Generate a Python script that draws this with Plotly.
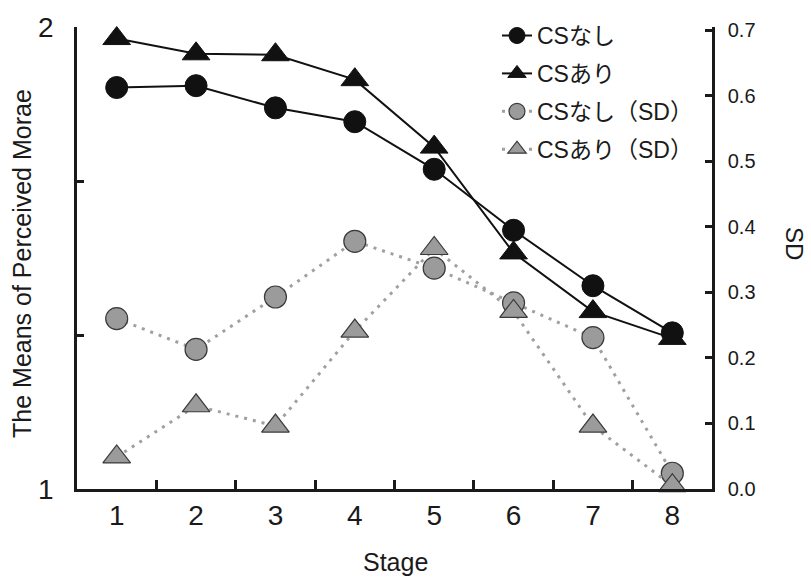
import plotly.graph_objects as go

# Stage numbers on the x axis
stages = [1, 2, 3, 4, 5, 6, 7, 8]

# Mean number of perceived morae (left axis)
mean_no_cs = [1.869, 1.873, 1.825, 1.795, 1.692, 1.560, 1.440, 1.338]
mean_cs = [1.975, 1.942, 1.940, 1.886, 1.740, 1.511, 1.384, 1.326]

# Standard deviations (right axis)
sd_no_cs = [0.260, 0.213, 0.293, 0.378, 0.337, 0.284, 0.231, 0.024]
sd_cs = [0.049, 0.127, 0.096, 0.241, 0.367, 0.271, 0.096, 0.005]

# Right-axis tick values
sd_ticks = [0.0, 0.1, 0.2, 0.3, 0.4, 0.5, 0.6, 0.7]

# Series names
names = ["CSなし", "CSあり", "CSなし（SD）", "CSあり（SD）"]

FONT = "Liberation Sans, Arial, Noto Sans CJK JP, sans-serif"
INK = "#1a1a1a"
GRAY_FILL = "#9b9b9b"
GRAY_LINE = "#a0a0a0"
SD_RANGE = [0, 0.705]

fig = go.Figure()

# Mean series (solid black, left axis)
fig.add_trace(go.Scatter(
    x=stages, y=mean_no_cs, name=names[0],
    mode="lines+markers", legendgroup="a", cliponaxis=False,
    line=dict(color="#111111", width=2),
    marker=dict(symbol="circle", size=22, color="#111111",
                line=dict(color="#111111", width=1)),
))
fig.add_trace(go.Scatter(
    x=stages, y=mean_cs, name=names[1],
    mode="lines+markers", legendgroup="b", cliponaxis=False,
    line=dict(color="#111111", width=2),
    marker=dict(symbol="triangle-up", size=24, color="#111111",
                line=dict(color="#111111", width=1)),
))

# SD series (dotted gray, right axis; y3 shares the y2 scale)
fig.add_trace(go.Scatter(
    x=stages, y=sd_no_cs, name=names[2], xaxis="x2", yaxis="y2",
    mode="lines+markers", legendgroup="c", cliponaxis=False,
    line=dict(color=GRAY_LINE, width=3, dash="3px,6px"),
    marker=dict(symbol="circle", size=22, color=GRAY_FILL,
                line=dict(color="#3a3a3a", width=1.2)),
))
fig.add_trace(go.Scatter(
    x=stages, y=sd_cs, name=names[3], xaxis="x2", yaxis="y3",
    mode="lines+markers", legendgroup="d", cliponaxis=False,
    line=dict(color=GRAY_LINE, width=3, dash="3px,6px"),
    marker=dict(symbol="triangle-up", size=24, color=GRAY_FILL,
                line=dict(color="#3a3a3a", width=1.2)),
))

L, R, T, B = 77, 99, 25, 89
PW = 811 - L - R
PH = 578 - T - B


def px_x(x):
    return (x - L) / PW


def px_y(y):
    return (578 - B - y) / PH


fig.update_layout(
    width=811, height=578,
    margin=dict(l=L, r=R, t=T, b=B, pad=0),
    paper_bgcolor="white", plot_bgcolor="white",
    font=dict(family=FONT, color=INK),
    showlegend=True,
    legend=dict(
        x=px_x(497), y=px_y(12), xanchor="left", yanchor="top",
        traceorder="grouped",
        bgcolor="rgba(0,0,0,0)", font=dict(size=23, family=FONT, color=INK),
        tracegroupgap=5,
    ),
    # Bottom axis: stage labels
    xaxis=dict(
        range=[0.5, 8.5], tickmode="array", tickvals=stages,
        ticks="", showline=True, linecolor=INK, linewidth=2.5,
        showgrid=False, zeroline=False,
        tickfont=dict(size=28, family=FONT, color=INK),
        ticklabelstandoff=0,
    ),
    # Overlaid bottom axis carrying the separator ticks between stages
    xaxis2=dict(
        range=[0.5, 8.5], overlaying="x", side="bottom", anchor="y2",
        tickmode="array", tickvals=[1.5, 2.5, 3.5, 4.5, 5.5, 6.5, 7.5],
        ticks="inside", ticklen=9, tickwidth=2.5, tickcolor=INK,
        showticklabels=False, showline=False, showgrid=False, zeroline=False,
    ),
    yaxis=dict(
        range=[1, 2], tickmode="array",
        tickvals=[1, 4 / 3, 5 / 3, 2], ticktext=["1", "", "", "2"],
        ticks="inside", ticklen=7, tickwidth=2.5, tickcolor=INK,
        showline=True, linecolor=INK, linewidth=2.5, showgrid=False, zeroline=False,
        tickfont=dict(size=28, family=FONT, color=INK),
        ticklabelstandoff=15,
    ),
    # Right axis: line and labels (transparent outside ticks set the label gap)
    yaxis2=dict(
        range=SD_RANGE, tickmode="array", tickvals=sd_ticks,
        tickformat=".1f", side="right", overlaying="y", anchor="x2",
        ticks="outside", ticklen=9, tickcolor="rgba(0,0,0,0)",
        showline=True, linecolor=INK, linewidth=2.5, showgrid=False, zeroline=False,
        tickfont=dict(size=20, family=FONT, color=INK),
    ),
    # Right axis: inward tick marks on the same scale
    yaxis3=dict(
        range=SD_RANGE, tickmode="array", tickvals=sd_ticks,
        side="right", overlaying="y", anchor="x2",
        ticks="inside", ticklen=7, tickwidth=2.5, tickcolor=INK,
        showticklabels=False, showline=False, showgrid=False, zeroline=False,
    ),
    annotations=[
        dict(text="Stage", xref="paper", yref="paper",
             x=px_x(395), y=px_y(562), xanchor="center", yanchor="middle",
             showarrow=False, font=dict(size=25, family=FONT, color=INK)),
        dict(text="The Means of Perceived Morae", textangle=-90,
             xref="paper", yref="paper",
             x=px_x(22), y=px_y(263), xanchor="center", yanchor="middle",
             showarrow=False, font=dict(size=25, family=FONT, color=INK)),
        dict(text="SD", textangle=90, xref="paper", yref="paper",
             x=px_x(795), y=px_y(243), xanchor="center", yanchor="middle",
             showarrow=False, font=dict(size=24, family=FONT, color=INK)),
    ],
)

fig.write_html("out.html")
